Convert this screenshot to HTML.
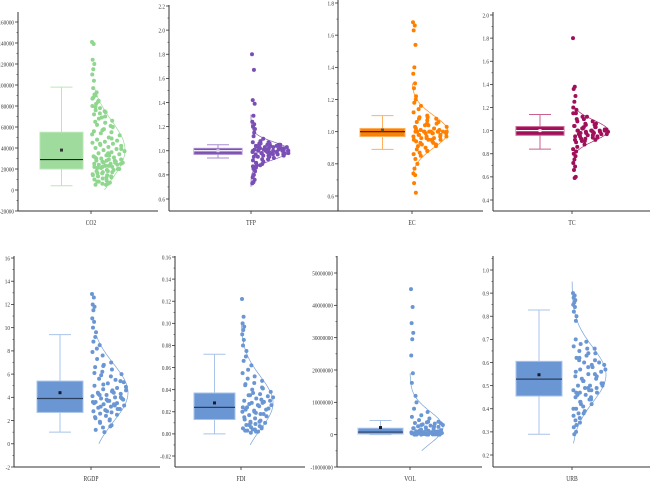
<!DOCTYPE html>
<html><head><meta charset="utf-8">
<style>
html,body{margin:0;padding:0;background:#fff;}
svg{display:block;font-family:"Liberation Serif",serif;}
</style></head>
<body>
<svg id="chart" width="650" height="482" viewBox="0 0 650 482"></svg>
<script>
// ---- data ----
const categories = ["CO2","TFP","EC","TC","RGDP","FDI","VOL","URB"];
const co2Values = [141,139,124,120,115,110,104,97,93,90,88,85,82,80,78,76,75,73,72,70,68,66,64,62,60,58,56,55,54,52,50,48,47,46,45,44,43,42,41,40,39,38,37,36,35,34,33,32,31,30,29,29,28,27,26,26,25,24,24,23,22,22,21,20,19,18,17,16,15,14,13,12,11,10,9,8,7,6,5,5,
  91,87,84,79,74,69,65,61,57,53,49,44,39,35,31,28,27,25,23,21,19,17,14,12,8,6,33,30,26,22,20,18,16,13,28,25];
const tfpValues = [1.80,1.67,1.42,1.39,1.29,1.24,1.22,1.20,1.18,1.15,1.12,1.10,1.08,1.07,1.06,1.06,1.05,1.05,1.04,1.04,1.03,1.03,1.03,1.02,1.02,1.02,1.01,1.01,1.01,1.00,1.00,1.00,1.00,0.99,0.99,0.99,0.98,0.98,0.98,0.97,0.97,0.96,0.96,0.95,0.95,0.94,0.93,0.92,0.91,0.90,0.89,0.88,0.87,0.86,0.85,0.83,0.80,0.78,0.76,0.74,0.73,
  1.07,1.06,1.05,1.04,1.03,1.02,1.01,1.00,0.99,0.98,0.97,0.96,1.04,1.02,1.00,0.98,0.97,1.03,1.01,0.99,0.95,0.93,0.90,0.88,0.86];
const ecValues = [1.68,1.66,1.63,1.54,1.40,1.36,1.30,1.27,1.22,1.20,1.18,1.16,1.14,1.12,1.10,1.09,1.08,1.07,1.06,1.05,1.04,1.03,1.02,1.01,1.00,1.00,1.00,1.00,1.00,0.99,0.99,0.98,0.98,0.97,0.97,0.96,0.96,0.95,0.95,0.94,0.93,0.92,0.91,0.90,0.89,0.88,0.87,0.86,0.85,0.83,0.80,0.77,0.74,0.73,0.68,0.62,
  1.09,1.08,1.06,1.04,1.02,1.00,1.00,1.00,0.99,0.98,0.97,0.96,0.95,0.94,0.93,0.92,1.00,1.00,1.01,0.99,0.97,0.95,0.91,0.88,1.05,1.03];
const tcValues = [1.80,1.38,1.36,1.30,1.25,1.20,1.18,1.15,1.12,1.10,1.08,1.06,1.05,1.04,1.03,1.02,1.01,1.00,1.00,1.00,0.99,0.99,0.98,0.98,0.97,0.96,0.95,0.94,0.93,0.92,0.91,0.90,0.88,0.86,0.84,0.82,0.80,0.78,0.75,0.72,0.69,0.66,0.60,0.59,
  1.10,1.08,1.06,1.04,1.03,1.02,1.01,1.00,1.00,0.99,0.98,0.97,0.96,0.95,0.94,0.93,0.92,1.05,1.03,1.01,0.99,0.97,0.95,0.91,1.15,1.12,1.02,1.00];
const rgdpValues = [12.9,12.6,12.0,11.8,11.5,10.8,10.5,10.0,9.6,9.2,8.8,8.5,8.2,7.9,7.6,7.3,7.0,6.8,6.6,6.4,6.2,6.0,5.8,5.6,5.4,5.2,5.0,4.8,4.7,4.6,4.5,4.4,4.3,4.2,4.1,4.0,3.9,3.8,3.7,3.6,3.5,3.4,3.3,3.2,3.1,3.0,2.9,2.8,2.7,2.6,2.5,2.4,2.2,2.0,1.8,1.6,1.4,1.2,1.0,
  6.7,6.1,5.5,5.1,4.9,4.6,4.3,4.0,3.8,3.6,3.4,3.2,3.0,2.8,2.3,2.1,1.9,1.5,4.4,4.2,3.9,3.7,3.5,3.3,5.9,5.3];
const fdiValues = [0.122,0.106,0.100,0.097,0.094,0.090,0.085,0.080,0.075,0.070,0.066,0.062,0.058,0.055,0.052,0.050,0.048,0.046,0.044,0.042,0.040,0.038,0.036,0.035,0.034,0.032,0.030,0.029,0.028,0.026,0.025,0.024,0.022,0.021,0.020,0.018,0.017,0.016,0.014,0.013,0.012,0.011,0.010,0.009,0.008,0.007,0.006,0.005,0.004,0.003,0.002,0.001,
  0.045,0.041,0.037,0.033,0.031,0.027,0.023,0.019,0.015,0.011,0.008,0.006,0.004,0.003,0.002,0.020,0.024,0.028,0.035,0.030,0.026,0.022,0.018,0.010,0.005];
const volValues = [45,39.5,34.5,31.5,29.5,24.5,19,16,12,10,8,7,6,5.5,5,4.5,4,3.8,3.6,3.4,3.2,3,2.8,2.6,2.4,2.2,2,1.8,1.6,1.4,1.2,1,0.9,0.8,0.7,0.6,0.5,0.4,0.3,0.2,0.1,0,0,0,0.1,0.2,0.3,0.5,0.8,1,
  0,0.1,0.2,0.3,0.4,0.5,0.6,0.8,1,1.5,2,2.5,3,3.5,4,0,0.1,0.2,0.4,0.7,1.2,0.3,0.1,0];
const urbValues = [0.90,0.89,0.88,0.87,0.86,0.85,0.84,0.82,0.80,0.78,0.70,0.69,0.68,0.67,0.66,0.65,0.64,0.63,0.62,0.61,0.60,0.59,0.58,0.57,0.56,0.55,0.54,0.53,0.52,0.51,0.50,0.50,0.49,0.49,0.48,0.48,0.47,0.47,0.46,0.45,0.44,0.43,0.42,0.41,0.40,0.39,0.38,0.37,0.36,0.35,0.34,0.33,0.32,0.30,0.29,
  0.66,0.64,0.62,0.60,0.58,0.56,0.54,0.52,0.50,0.48,0.46,0.44,0.42,0.40,0.55,0.53,0.51,0.49,0.47,0.45,0.43,0.57,0.59,0.61,0.38];
// box stats: [whiskerLow, q1, median, q3, whiskerHigh, mean]
const boxStats = [
  [4,20,29,55,98,38],
  [0.94,0.97,1.0,1.02,1.05,1.0],
  [0.89,0.97,1.0,1.02,1.10,1.01],
  [0.84,0.96,1.0,1.035,1.14,1.0],
  [1.0,2.7,3.9,5.4,9.4,4.4],
  [0.0,0.013,0.024,0.037,0.072,0.028],
  [0,0.2,0.8,2.0,4.4,2.2],
  [0.29,0.455,0.528,0.605,0.827,0.547]
];
// normal curve: [mean, sd, from, to]
const curveStats = [
  [38,28,0,97],[1.0,0.07,0.70,1.30],[1.0,0.1,0.73,1.30],[1.0,0.09,0.81,1.20],
  [4.4,2.5,0,9.2],[0.028,0.024,-0.01,0.10],[2.2,5,-5,19],[0.547,0.12,0.25,0.95]
];
// tick labels
const co2Ticks = ["-20000","0","20000","40000","60000","80000","100000","120000","140000","160000"];
const tfpTicks = ["0.6","0.8","1.0","1.2","1.4","1.6","1.8","2.0","2.2"];
const ecTicks = ["0.6","0.8","1.0","1.2","1.4","1.6","1.8"];
const tcTicks = ["0.4","0.6","0.8","1.0","1.2","1.4","1.6","1.8","2.0"];
const rgdpTicks = ["-2","0","2","4","6","8","10","12","14","16"];
const fdiTicks = ["-0.02","0.00","0.02","0.04","0.06","0.08","0.10","0.12","0.14","0.16"];
const volTicks = ["-10000000","0","10000000","20000000","30000000","40000000","50000000"];
const urbTicks = ["0.2","0.3","0.4","0.5","0.6","0.7","0.8","0.9","1.0"];

// ---- layout (styling / geometry) ----
const panels = [
 {vals:co2Values,ticks:co2Ticks,scale:1000,ax:18,xEnd:158,top:12,bot:211,v0:-20000,p0:211,v1:160000,p1:22,cx:91,bx0:40,bx1:83,amp:34,fill:"#9fdb9c",edge:"#b9e6b6",pt:"#8fd68f",med:"#222",meanC:"#333",lab:223},
 {vals:tfpValues,ticks:tfpTicks,scale:1,ax:169,xEnd:338,top:5,bot:211,v0:0.6,p0:199,v1:2.2,p1:6,cx:251,bx0:194,bx1:242,amp:39,fill:"#7b52b0",edge:"#a98bd0",pt:"#7a4fb5",med:"#fff",meanC:"#ddd",lab:223},
 {vals:ecValues,ticks:ecTicks,scale:1,ax:338,xEnd:483,top:0,bot:211,v0:0.6,p0:196,v1:1.8,p1:3,cx:412,bx0:360,bx1:405,amp:36,fill:"#ff8000",edge:"#ffb060",pt:"#ff8000",med:"#222",meanC:"#555",lab:223},
 {vals:tcValues,ticks:tcTicks,scale:1,ax:493,xEnd:650,top:12,bot:211,v0:0.4,p0:200,v1:2.0,p1:15,cx:572,bx0:516,bx1:564,amp:36,fill:"#a0105a",edge:"#c86090",pt:"#a0105a",med:"#fff",meanC:"#eee",lab:223},
 {vals:rgdpValues,ticks:rgdpTicks,scale:1,ax:14,xEnd:160,top:256,bot:467,v0:-2,p0:467,v1:16,p1:258,cx:91,bx0:37,bx1:83,amp:37,fill:"#6a97d4",edge:"#a8c4ea",pt:"#6a97d4",med:"#2a3f5f",meanC:"#1a1a2a",lab:479},
 {vals:fdiValues,ticks:fdiTicks,scale:1,ax:175,xEnd:305,top:256,bot:467,v0:-0.02,p0:456,v1:0.16,p1:257,cx:241,bx0:194,bx1:235,amp:32,fill:"#6a97d4",edge:"#a8c4ea",pt:"#6a97d4",med:"#2a3f5f",meanC:"#1a1a2a",lab:479},
 {vals:volValues,ticks:volTicks,scale:1000000,ax:337,xEnd:482,top:256,bot:467,v0:-10000000,p0:467,v1:50000000,p1:273,cx:410,bx0:358,bx1:403,amp:33,fill:"#6a97d4",edge:"#a8c4ea",pt:"#6a97d4",med:"#2a3f5f",meanC:"#1a1a2a",lab:479},
 {vals:urbValues,ticks:urbTicks,scale:1,ax:493,xEnd:650,top:256,bot:467,v0:0.2,p0:455,v1:1.0,p1:270,cx:572,bx0:516,bx1:562,amp:34,fill:"#6a97d4",edge:"#a8c4ea",pt:"#6a97d4",med:"#2a3f5f",meanC:"#1a1a2a",lab:479}
];

const NS="http://www.w3.org/2000/svg";
const svg=document.getElementById("chart");
function mk(tag,attrs,parent){const e=document.createElementNS(NS,tag);for(const k in attrs)e.setAttribute(k,attrs[k]);(parent||svg).appendChild(e);return e;}

panels.forEach((P,pi)=>{
  const name=categories[pi].toLowerCase();
  const g=mk("g",{});
  
  
  const Y=v=>P.p0+(v*P.scale-P.v0)*(P.p1-P.p0)/(P.v1-P.v0);
  const Yraw=v=>P.p0+(v-P.v0)*(P.p1-P.p0)/(P.v1-P.v0);
  const ya=mk("line",{x1:P.ax,y1:P.top,x2:P.ax,y2:P.bot,stroke:"#333","stroke-width":1},g);
  
  
  const xa=mk("line",{x1:P.ax,y1:P.bot,x2:P.xEnd,y2:P.bot,stroke:"#333","stroke-width":1},g);
  
  
  const n=P.ticks.length;
  const step=(P.v1-P.v0)/(n-1);
  P.ticks.forEach((t,i)=>{
    const v=P.v0+i*step, py=Yraw(v);
    mk("line",{x1:P.ax-3,y1:py,x2:P.ax,y2:py,stroke:"#333","stroke-width":0.8},g);
    const my=Yraw(v+step/2);
    if(my>=P.top) mk("line",{x1:P.ax-1.5,y1:my,x2:P.ax,y2:my,stroke:"#333","stroke-width":0.6},g);
    const tx=mk("text",{x:P.ax-4,y:py+2.3,"font-size":"6.5","text-anchor":"end",fill:"#333",transform:`translate(${P.ax-4} 0) scale(0.8 1) translate(${-(P.ax-4)} 0)`},g);
    tx.textContent=t;
    
    
  });
  mk("line",{x1:P.cx,y1:P.bot,x2:P.cx,y2:P.bot+3,stroke:"#333","stroke-width":0.8},g);
  const lb=mk("text",{x:P.cx,y:P.lab+2,"font-size":"7","text-anchor":"middle",fill:"#333",transform:`translate(${P.cx} 0) scale(0.8 1) translate(${-P.cx} 0)`},g);
  lb.textContent=categories[pi];
  
  
  const s=boxStats[pi];
  const bc=(P.bx0+P.bx1)/2;
  const bg=mk("g",{},g);
  
  
  mk("line",{x1:bc,y1:Y(s[0]),x2:bc,y2:Y(s[1]),stroke:P.edge,"stroke-width":1},bg);
  mk("line",{x1:bc,y1:Y(s[3]),x2:bc,y2:Y(s[4]),stroke:P.edge,"stroke-width":1},bg);
  mk("line",{x1:bc-11,y1:Y(s[0]),x2:bc+11,y2:Y(s[0]),stroke:P.edge,"stroke-width":1},bg);
  mk("line",{x1:bc-11,y1:Y(s[4]),x2:bc+11,y2:Y(s[4]),stroke:P.edge,"stroke-width":1},bg);
  mk("rect",{x:P.bx0,y:Y(s[3]),width:P.bx1-P.bx0,height:Math.max(1,Y(s[1])-Y(s[3])),fill:P.fill,stroke:P.edge,"stroke-width":1},bg);
  mk("line",{x1:P.bx0,y1:Y(s[2]),x2:P.bx1,y2:Y(s[2]),stroke:P.med,"stroke-width":1.2},bg);
  mk("rect",{x:bc-1.5,y:Y(s[5])-1.5,width:3,height:3,fill:P.meanC},bg);
  const c=curveStats[pi];
  const pdf=v=>Math.exp(-0.5*((v-c[0])/c[1])**2);
  let d="";
  for(let k=0;k<=80;k++){const v=c[2]+(c[3]-c[2])*k/80;d+=(k?"L":"M")+(P.cx+P.amp*pdf(v)).toFixed(1)+","+Y(v).toFixed(1);}
  const cv=mk("path",{d:d,fill:"none",stroke:P.pt,"stroke-width":0.7,opacity:0.9},g);
  
  
  P.vals.forEach((v,i)=>{
    const f=(i*0.618034)%1;
    const w=Math.max(2,P.amp*Math.max(pdf(v),0.08));
    const dot=mk("circle",{cx:P.cx+1+f*w,cy:Y(v),r:2,fill:P.pt},g);
    
    
  });
});
</script>
</body></html>
